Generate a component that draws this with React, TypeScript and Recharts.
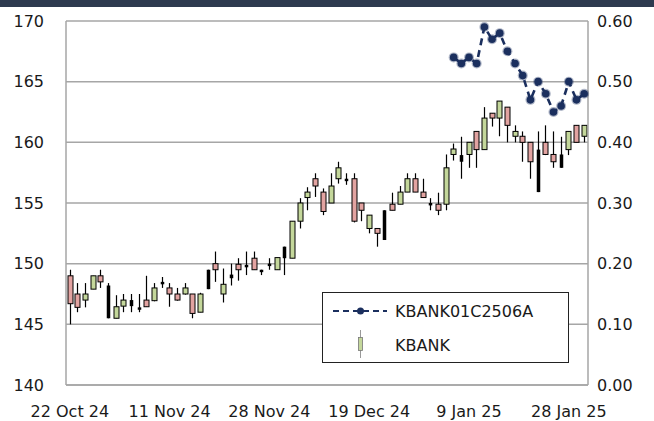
import React from 'react';
import { ComposedChart, Bar, Line, XAxis, YAxis, CartesianGrid } from 'recharts';

const dates = [
  '22 Oct 24', '24 Oct 24', '25 Oct 24', '28 Oct 24', '29 Oct 24', '30 Oct 24', '31 Oct 24',
  '1 Nov 24', '4 Nov 24', '5 Nov 24', '6 Nov 24', '7 Nov 24', '8 Nov 24', '11 Nov 24',
  '12 Nov 24', '13 Nov 24', '14 Nov 24', '15 Nov 24', '18 Nov 24', '19 Nov 24', '20 Nov 24',
  '21 Nov 24', '22 Nov 24', '25 Nov 24', '26 Nov 24', '27 Nov 24', '28 Nov 24', '29 Nov 24',
  '2 Dec 24', '3 Dec 24', '4 Dec 24', '6 Dec 24', '9 Dec 24', '11 Dec 24', '12 Dec 24',
  '13 Dec 24', '16 Dec 24', '17 Dec 24', '18 Dec 24', '19 Dec 24', '20 Dec 24', '23 Dec 24',
  '24 Dec 24', '25 Dec 24', '26 Dec 24', '27 Dec 24', '30 Dec 24', '2 Jan 25', '3 Jan 25',
  '6 Jan 25', '7 Jan 25', '8 Jan 25', '9 Jan 25', '10 Jan 25', '13 Jan 25', '14 Jan 25',
  '15 Jan 25', '16 Jan 25', '17 Jan 25', '20 Jan 25', '21 Jan 25', '22 Jan 25', '23 Jan 25',
  '24 Jan 25', '27 Jan 25', '28 Jan 25', '29 Jan 25', '30 Jan 25',
];

const opens = [
  149.0, 147.5, 147.0, 147.9, 149.0, 148.2, 145.5, 146.5, 147.0, 146.4,
  147.0, 146.95, 148.5, 148.0, 147.5, 147.5, 147.5, 146.0, 149.5, 150.0,
  147.5, 149.1, 149.95, 149.9, 150.45, 149.5, 150.0, 149.5, 151.4, 150.45,
  153.5, 155.45, 157.0, 155.9, 155.0, 157.0, 157.0, 157.0, 155.0, 152.9,
  152.9, 154.4, 154.9, 154.9, 155.9, 157.0, 155.9, 155.0, 154.9, 154.9,
  159.0, 158.95, 159.0, 160.9, 159.4, 162.4, 162.0, 162.9, 160.5, 160.5,
  160.0, 159.4, 160.0, 159.0, 159.0, 159.4, 161.4, 160.5,
];
const highs = [
  149.5, 148.4, 148.4, 149.0, 149.5, 148.4, 147.4, 147.5, 147.5, 147.5,
  149.0, 148.4, 148.9, 148.4, 148.0, 148.4, 147.5, 147.6, 149.5, 151.0,
  149.6, 150.0, 150.45, 151.0, 151.0, 149.5, 150.45, 150.5, 151.4, 153.5,
  155.4, 156.3, 157.45, 156.2, 157.45, 158.4, 157.45, 157.45, 155.0, 154.0,
  152.9, 154.4, 155.85, 156.4, 157.45, 157.45, 157.0, 155.4, 155.85, 159.0,
  159.9, 160.46, 160.0, 160.9, 162.9, 162.4, 163.4, 162.9, 161.4, 160.9,
  160.0, 160.9, 161.4, 160.9, 160.46, 160.9, 161.4, 161.4,
];
const lows = [
  145.0, 146.0, 146.4, 147.9, 148.0, 145.5, 145.5, 146.0, 146.0, 146.0,
  146.45, 146.9, 148.0, 146.45, 146.95, 147.45, 145.5, 146.0, 147.9, 148.5,
  146.8, 148.2, 148.6, 149.06, 149.5, 149.06, 149.5, 149.5, 149.06, 150.45,
  152.9, 154.4, 155.5, 154.0, 155.0, 156.6, 156.5, 153.4, 153.5, 152.5,
  151.4, 151.95, 154.4, 154.9, 155.9, 155.9, 155.45, 154.4, 154.0, 154.4,
  158.5, 157.0, 157.9, 157.9, 159.4, 161.3, 160.5, 160.0, 160.0, 158.4,
  157.0, 155.9, 158.95, 157.9, 157.9, 158.95, 160.0, 160.0,
];
const closes = [
  146.7, 146.4, 147.5, 149.0, 148.5, 145.5, 146.45, 147.0, 146.5, 146.2,
  146.45, 148.0, 148.3, 147.5, 147.0, 148.0, 145.9, 147.5, 147.9, 149.5,
  148.3, 148.8, 149.5, 149.7, 149.5, 149.3, 149.8, 150.5, 150.45, 153.5,
  155.0, 155.9, 156.4, 154.3, 156.4, 157.9, 156.8, 153.5, 154.4, 154.0,
  152.5, 151.95, 154.4, 155.9, 157.0, 155.9, 155.45, 154.8, 154.4, 157.9,
  159.45, 158.4, 160.0, 159.4, 162.0, 162.0, 163.4, 161.4, 160.9, 160.0,
  158.4, 155.9, 159.0, 158.4, 157.9, 160.9, 160.0, 161.4,
];
const solidDays = [5, 8, 9, 12, 18, 21, 23, 25, 26, 28, 36, 41, 47, 51, 61, 64];

const warrantFrom = '7 Jan 25';
const warrantValues = [
  0.54, 0.53, 0.54, 0.53, 0.59, 0.57, 0.58, 0.55, 0.53, 0.51,
  0.47, 0.50, 0.48, 0.45, 0.46, 0.50, 0.47, 0.48,
];

const xTicks = ['22 Oct 24', '11 Nov 24', '28 Nov 24', '19 Dec 24', '9 Jan 25', '28 Jan 25'];
const leftTicks = [140, 145, 150, 155, 160, 165, 170];
const rightTicks = [0, 0.1, 0.2, 0.3, 0.4, 0.5, 0.6];
const seriesNames = ['KBANK01C2506A', 'KBANK'];

const startIdx = dates.indexOf(warrantFrom);
const data = dates.map((d, i) => ({
  date: d,
  open: opens[i],
  high: highs[i],
  low: lows[i],
  close: closes[i],
  solid: solidDays.includes(i),
  warrant: i >= startIdx && i - startIdx < warrantValues.length ? warrantValues[i - startIdx] : null,
}));

const FONT = 'DejaVu Sans';
const TEXT = '#1a1a1a';
const GRID = '#a6a6a6';
const NAVY = '#1b2f5e';
const UP = '#c4d79b';
const DOWN = '#e2a3a1';

const Candle = (props: any) => {
  const { x, y, width, height, payload } = props;
  if (!payload || height == null) return null;
  const { open, close, high, low, solid } = payload;
  const cx = Math.round(x + width / 2) + 0.5;
  const ppu = high - low > 0 ? height / (high - low) : 0;
  const yOf = (v: number) => y + (high - v) * ppu;
  const top = yOf(Math.max(open, close));
  const bot = yOf(Math.min(open, close));
  const bh = Math.max(bot - top, 1.5);
  return (
    <g>
      <line x1={cx} x2={cx} y1={y} y2={y + height} stroke="#000" strokeWidth={1.2} />
      {solid ? (
        <rect x={cx - 1.75} y={top} width={3.5} height={bh} fill="#000" />
      ) : (
        <rect
          x={cx - 2.5}
          y={top}
          width={5}
          height={bh}
          fill={close >= open ? UP : DOWN}
          stroke="#000"
          strokeWidth={1}
        />
      )}
    </g>
  );
};

const Dot = (props: any) => {
  const { cx, cy, value } = props;
  if (value == null || cx == null || cy == null) return null;
  return (
    <g>
      <circle cx={cx} cy={cy} r={5} fill={NAVY} opacity={0.35} />
      <circle cx={cx} cy={cy} r={3.8} fill={NAVY} />
    </g>
  );
};

export default function App() {
  return (
    <div style={{ position: 'absolute', left: 0, top: 0, width: 654, height: 421, background: '#fff' }}>
      <ComposedChart
        width={654}
        height={421}
        data={data}
        margin={{ top: 21, right: 0, left: 0, bottom: 0 }}
        barCategoryGap={0}
      >
        <CartesianGrid yAxisId="left" vertical={false} stroke={GRID} strokeWidth={1.5} />
        <XAxis
          dataKey="date"
          ticks={xTicks}
          interval={0}
          height={36}
          tickLine={false}
          tickSize={0}
          tickMargin={21}
          axisLine={{ stroke: GRID, strokeWidth: 1.5 }}
          tick={{ fill: TEXT, fontSize: 16, fontFamily: FONT }}
        />
        <YAxis
          yAxisId="left"
          orientation="left"
          width={66}
          domain={[140, 170]}
          ticks={leftTicks}
          allowDataOverflow
          tickLine={false}
          tickSize={0}
          tickMargin={22}
          axisLine={{ stroke: GRID, strokeWidth: 1.5 }}
          tick={{ fill: TEXT, fontSize: 16, fontFamily: FONT }}
        />
        <YAxis
          yAxisId="right"
          orientation="right"
          width={66}
          domain={[0, 0.6]}
          ticks={rightTicks}
          allowDataOverflow
          tickLine={false}
          tickSize={0}
          tickMargin={9}
          tickFormatter={(v: number) => v.toFixed(2)}
          axisLine={{ stroke: GRID, strokeWidth: 1.5 }}
          tick={{ fill: TEXT, fontSize: 16, fontFamily: FONT, textAnchor: 'start' }}
        />
        <Bar
          yAxisId="left"
          dataKey={(d: any) => [d.low, d.high]}
          barSize={5}
          shape={<Candle />}
          isAnimationActive={false}
          name={seriesNames[1]}
        />
        <Line
          yAxisId="right"
          dataKey="warrant"
          stroke={NAVY}
          strokeWidth={2.6}
          strokeDasharray="7 5"
          dot={<Dot />}
          activeDot={false}
          connectNulls={false}
          isAnimationActive={false}
          name={seriesNames[0]}
        />
      </ComposedChart>
      <svg
        width={654}
        height={421}
        style={{ position: 'absolute', left: 0, top: 0, pointerEvents: 'none' }}
      >
        <rect x={322.5} y={292.5} width={246} height={70} fill="#fff" stroke="#222" strokeWidth={1} />
        <line x1={333} x2={387} y1={311} y2={311} stroke={NAVY} strokeWidth={2} strokeDasharray="6 4" />
        <circle cx={360.5} cy={311} r={3.5} fill={NAVY} />
        <text x={395} y={311} dominantBaseline="central" fontSize={16} fontFamily={FONT} fill={TEXT}>
          {seriesNames[0]}
        </text>
        <line x1={360.5} x2={360.5} y1={330} y2={358} stroke="#999" strokeWidth={1} />
        <rect x={358.5} y={337.5} width={4} height={13} fill={UP} stroke="#777" strokeWidth={0.8} />
        <text x={395} y={345} dominantBaseline="central" fontSize={16} fontFamily={FONT} fill={TEXT}>
          {seriesNames[1]}
        </text>
      </svg>
      <div style={{ position: 'absolute', left: 0, top: 0, width: 654, height: 7, background: '#2e3a4f' }} />
    </div>
  );
}
